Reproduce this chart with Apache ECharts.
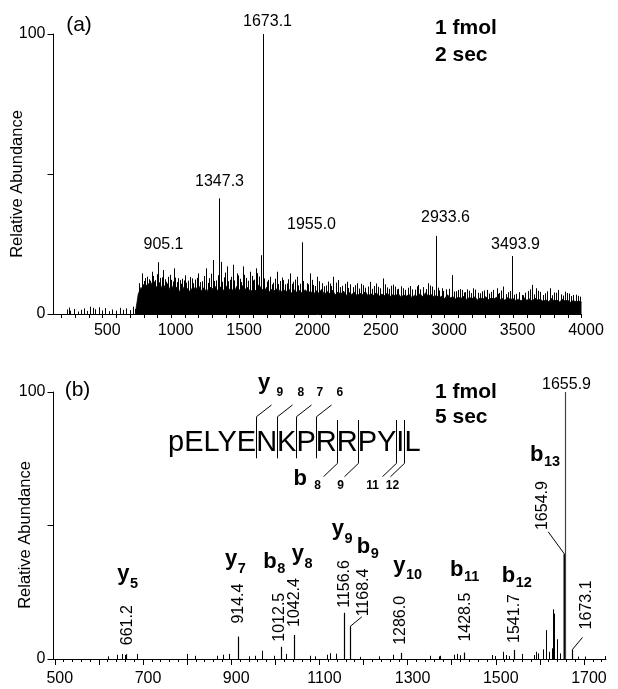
<!DOCTYPE html>
<html>
<head>
<meta charset="utf-8">
<script src="https://cdn.jsdelivr.net/npm/echarts@6/dist/echarts.min.js"></script>
<style>
html, body { margin: 0; padding: 0; background: #fff; }
#chart { width: 618px; height: 689px; }
</style>
</head>
<body>
<div id="chart"></div>
<script>
const FONT = '"Liberation Sans", Arial, Helvetica, sans-serif';

// ---- panel (a): 1 fmol, 2 sec ----
const xLabelsA = [500, 1000, 1500, 2000, 2500, 3000, 3500, 4000];
const peakMzA = [905.1, 1347.3, 1673.1, 1955.0, 2933.6, 3493.9];
const peakIntA = [18.5, 41.3, 100, 25.6, 27.9, 20.7];
// chemical noise floor, read every 20 m/z from 740
const floorStartA = 740, floorStepA = 20;
const floorA = [
  0.8, 7.2, 9.5, 8.1, 10.4, 8.8, 11.2, 9.0, 10.1, 8.4,
  10.8, 9.2, 8.0, 10.5, 8.7, 9.6, 7.9, 10.2, 8.5, 9.1,
  7.8, 9.9, 8.6, 10.3, 8.2, 9.4, 7.7, 9.8, 8.9, 10.0,
  8.3, 9.7, 8.1, 10.1, 8.6, 9.3, 7.6, 9.9, 8.4, 10.2,
  8.8, 9.5, 7.9, 9.0, 8.3, 10.4, 9.2, 8.0, 9.6, 7.8,
  9.1, 8.2, 9.4, 7.5, 8.9, 7.9, 9.0, 7.4, 8.6, 7.7,
  8.4, 7.2, 8.7, 7.6, 8.1, 6.9, 8.3, 7.4, 8.8, 7.0,
  8.0, 7.3, 8.5, 6.8, 7.9, 7.1, 8.2, 6.6, 7.7, 7.0,
  7.8, 6.5, 7.4, 6.9, 8.0, 6.4, 7.2, 6.7, 7.6, 6.3,
  7.1, 6.6, 7.5, 6.2, 6.9, 6.5, 7.3, 6.0, 6.8, 6.4,
  7.0, 5.9, 6.7, 6.3, 7.2, 6.1, 7.6, 6.4, 7.0, 6.2,
  6.6, 5.8, 6.4, 5.5, 6.9, 5.7, 6.2, 5.4, 6.0, 5.6,
  6.3, 5.2, 5.9, 5.5, 6.1, 5.0, 5.8, 5.3, 6.2, 5.1,
  5.7, 5.4, 6.0, 5.0, 5.6, 4.9, 5.9, 5.2, 5.5, 4.8,
  5.3, 4.7, 5.8, 4.9, 5.4, 4.6, 5.6, 5.0, 5.2, 4.5,
  5.1, 4.4, 5.5, 4.7, 5.0, 4.3, 5.3, 4.6, 4.9, 4.2,
  4.8, 4.4, 4.6, 4.3
];
// noise spikes standing above the floor [m/z, %]
const spikesA = [
  [236,1.6],[250,2.3],[262,1.2],[290,1.8],[318,0.9],[340,1.5],[365,2.0],[385,1.1],[410,2.6],[430,2.2],
  [445,1.7],[470,2.4],[495,1.3],[520,2.1],[545,1.0],[570,1.6],[600,1.2],[625,2.2],[650,1.5],[672,2.0],
  [700,1.4],[720,2.6],[735,1.8],
  [784,14.5],[800,11.8],[821,13.3],[838,12.4],[857,15.1],[875,11.6],[922,12.9],[943,15.7],[962,11.5],
  [979,13.3],[1002,12.2],[1021,16.3],[1042,11.4],[1064,12.1],[1083,12.6],[1101,13.8],[1125,11.9],
  [1150,12.7],[1175,12.3],[1198,14.5],[1226,11.7],[1254,16.3],[1279,12.8],[1303,19.3],[1330,12.0],
  [1362,18.6],[1385,13.1],[1405,17.0],[1428,12.2],[1449,17.6],[1479,14.5],[1500,12.6],[1522,17.0],
  [1550,12.9],[1576,15.1],[1598,12.0],[1620,16.3],[1640,13.4],[1656,21.0],[1700,11.6],[1722,13.3],
  [1745,11.2],[1771,15.1],[1795,11.8],[1820,12.1],[1845,10.9],[1868,14.5],[1893,11.5],[1917,13.3],
  [1940,10.8],[1990,11.0],[2014,14.5],[2040,10.4],[2063,13.3],[2100,11.0],[2130,10.2],[2160,10.9],
  [2185,13.3],[2222,12.1],[2250,10.1],[2283,11.5],[2310,10.6],[2330,9.6],[2356,11.0],[2400,10.3],
  [2420,9.4],[2453,11.5],[2480,10.0],[2510,9.7],[2551,12.7],[2580,9.5],[2610,10.1],[2636,9.8],
  [2660,9.0],[2697,9.2],[2730,9.4],[2760,8.8],[2807,10.4],[2840,9.6],[2860,8.9],[2880,11.0],
  [2905,9.8],[2960,8.4],[2977,9.2],[3010,8.8],[3050,13.9],[3080,8.1],[3100,8.6],[3123,8.6],
  [3150,7.8],[3180,8.3],[3208,9.2],[3240,7.6],[3270,8.1],[3306,8.6],[3340,7.9],[3379,9.2],
  [3400,7.5],[3428,9.8],[3460,7.8],[3520,7.2],[3562,6.8],[3590,7.6],[3610,8.2],[3635,10.4],
  [3671,9.2],[3700,7.9],[3730,7.4],[3769,9.2],[3800,7.7],[3830,8.6],[3850,7.0],[3878,8.0],
  [3910,7.3],[3939,6.8],[3960,6.9],[3988,6.2],
  [768,11.0],[792,10.6],[812,12.8],[830,10.9],[848,11.9],[866,13.6],[884,12.1],[893,14.2],[914,11.3],
  [931,13.1],[952,12.4],[970,10.9],[990,14.0],[1010,11.6],[1031,13.0],[1052,12.8],[1073,10.8],[1092,12.0],
  [1112,11.2],[1138,13.2],[1162,11.0],[1186,12.9],[1212,11.4],[1240,13.6],[1266,11.1],[1290,14.4],
  [1316,11.8],[1342,13.9],[1372,11.5],[1395,14.8],[1416,11.7],[1438,13.3],[1462,12.0],[1490,13.8],
  [1511,11.4],[1535,14.0],[1562,11.9],[1588,13.6],[1608,12.3],[1630,14.6],[1682,12.7],[1711,12.2],
  [1734,10.6],[1758,12.6],[1783,10.7],[1808,13.0],[1832,10.6],[1856,12.4],[1880,10.8],[1905,12.3],
  [1928,10.2],[1965,11.8],[2002,10.6],[2027,12.2],[2052,10.0],[2080,11.7],[2115,9.9],[2148,11.6],
  [2172,10.0],[2205,11.2],[2236,9.6],[2268,10.8],[2296,9.3],[2343,10.3],[2372,9.1],[2388,10.8],
  [2436,9.8],[2466,9.0],[2495,10.9],[2530,9.2],[2565,10.6],[2595,9.0],[2622,10.5],[2648,8.8],
  [2680,9.9],[2712,8.6],[2745,10.0],[2782,8.7],[2795,9.9],[2822,8.8],[2895,10.2],[2920,8.6],
  [2948,9.4],[2990,8.2],[3030,9.0],[3065,8.0],[3112,8.9],[3138,7.7],[3165,8.8],[3195,7.5],
  [3225,8.7],[3255,7.4],[3290,8.4],[3322,7.3],[3355,8.6],[3390,7.2],[3415,8.4],[3445,7.1],
  [3475,8.2],[3505,6.9],[3540,7.8],[3575,6.7],[3622,8.8],[3650,7.0],[3685,8.3],[3715,6.8],
  [3750,8.1],[3785,6.7],[3815,7.6],[3865,6.6],[3895,7.5],[3925,6.4],[3975,6.5]
];

// ---- panel (b): 1 fmol, 5 sec, PSD of neurotensin ----
const xLabelsB = [500, 700, 900, 1100, 1300, 1500, 1700];
const peakMzB = [661.2, 914.4, 1012.5, 1042.4, 1156.6, 1168.4, 1286.0, 1428.5, 1541.7, 1654.9, 1655.9, 1673.1];
const peakIntB = [1.8, 8.4, 4.6, 9.0, 17.3, 12.3, 2.3, 2.4, 3.4, 39.3, 100, 3.6];
const minorB = [
  [621.7,1.0],[640.7,1.6],[652,1.9],[659.6,1.5],[686,1.9],[799.6,1.9],[818,1.2],[867.7,1.2],[881,1.6],
  [896,1.9],[939.5,1.0],[954.6,1.2],[969.8,3.1],[996,1.2],[1025,1.9],[1079.5,1.2],[1090.8,1.0],
  [1117.3,1.6],[1124.8,2.2],[1137.7,2.0],[1193,0.8],[1234.5,1.0],[1267,1.6],[1351.8,1.2],[1370.6,1.0],
  [1374.5,1.2],[1404.7,1.6],[1412.4,1.9],[1420,1.4],[1491.8,1.5],[1499.3,1.1],[1516.8,2.7],[1524.3,1.5],
  [1530.4,1.1],[1560,1.9],[1586.3,1.5],[1590.8,2.7],[1595.4,2.1],[1607.6,3.6],[1613.5,10.8],[1621.2,2.7],
  [1627.1,4.0],[1630.3,18.6],[1631.5,17.0],[1639.4,7.4],[1645.3,2.1],[1685.8,0.9],[1702.4,0.9],[1747.8,1.1]
];
const residues = ['pE', 'L', 'Y', 'E', 'N', 'K', 'P', 'R', 'R', 'P', 'Y', 'I', 'L'];
const yIons = [9, 8, 7, 6];
const bIons = [8, 9, 11, 12];
const fragLabels = [['y', 5], ['y', 7], ['b', 8], ['y', 8], ['y', 9], ['b', 9], ['y', 10], ['b', 11], ['b', 12], ['b', 13]];

// ---- layout helpers ----
const ticksA = [];
for (let v = 200; v <= 4000; v += 100) ticksA.push(v);
const majorTicksB = [];
for (let v = 500; v <= 1700; v += 100) majorTicksB.push(v);
const minorTicksB = [];
for (let v = 500; v <= 1740; v += 20) minorTicksB.push(v);

function textEl(x, baseline, s, size, weight, align, extra) {
  return Object.assign({
    type: 'text', x: x, y: baseline - 0.35 * size,
    style: {
      text: s, fontSize: size, fontWeight: weight || 'normal', fontFamily: FONT, fill: '#000',
      align: align || 'left', verticalAlign: 'middle', textAlign: align || 'left', textVerticalAlign: 'middle'
    }
  }, extra || {});
}
function lineEl(x1, y1, x2, y2, w, color) {
  return { type: 'line', shape: { x1: x1, y1: y1, x2: x2, y2: y2 }, style: { stroke: color || '#000', lineWidth: w || 1 } };
}

const measure = document.createElement('canvas').getContext('2d');
function textWidth(s, font) { measure.font = font; return measure.measureText(s).width; }

// label placement, panel (a): [dx, gap above peak]
const nudgeA = { '905.1': [5, 12], '1347.3': [0, 11], '1673.1': [4, 7], '1955.0': [9, 12], '2933.6': [9, 13], '3493.9': [3, 6] };
// label placement, panel (b)
const gapB = { '661.2': [1, 9], '914.4': [0, 13], '1012.5': [-1.5, 5], '1042.4': [0, 8], '1156.6': [0, 5], '1286.0': [-1, 8], '1428.5': [1, 11], '1541.7': [0, 7] };
const leadersB = {
  '1168.4': { d: [11.3, -9.3], l: [1.7, -0.5] },
  '1654.9': { d: [-16.3, -22.3], l: [-5.3, -1.7] },
  '1673.1': { d: [10, -12], l: [3.8, -8] }
};

function rotLabel(x, y, s) {
  return {
    type: 'text', x: x, y: y, rotation: Math.PI / 2,
    style: { text: s, fontSize: 16, fontFamily: FONT, fill: '#000', align: 'left', verticalAlign: 'middle', textAlign: 'left', textVerticalAlign: 'middle' }
  };
}

function stickRender(width) {
  return function (params, api) {
    const b = api.coord([api.value(0), 0]);
    const t = api.coord([api.value(0), api.value(1)]);
    const x = Math.round(b[0]) + 0.5;
    return lineEl(x, b[1], x, t[1], width);
  };
}

// ---- graphic: titles, sequence diagram, fragment labels ----
const els = [];
els.push(textEl(79, 33, '(a)', 21, 'normal', 'center'));
els.push(textEl(77.5, 398, '(b)', 21, 'normal', 'center'));
els.push(textEl(17.3, 184 + 0.35 * 16.5, 'Relative Abundance', 16.5, 'normal', 'center', { rotation: Math.PI / 2, y: 184 }));
els.push(textEl(25, 535 + 0.35 * 16.5, 'Relative Abundance', 16.5, 'normal', 'center', { rotation: Math.PI / 2, y: 535 }));
els.push(textEl(435, 36, '1 fmol', 21, 'bold'));
els.push(textEl(435, 62.7, '2 sec', 21, 'bold'));
els.push(textEl(435, 400, '1 fmol', 21, 'bold'));
els.push(textEl(435, 425, '5 sec', 21, 'bold'));

const fragPos = [[117.3, 581.7], [225, 566.7], [263.3, 570], [291.7, 561.7], [331.7, 536.7], [356.7, 555], [393.3, 573.3], [450, 578], [501.7, 584], [530, 462.7]];
fragLabels.forEach((f, i) => {
  const p = fragPos[i];
  const w = textWidth(f[0], 'bold 22px ' + FONT);
  els.push(textEl(p[0], p[1], f[0], 22, 'bold'));
  els.push(textEl(p[0] + w + 0.5, p[1] + (f[0] === 'y' ? 7 : 4.5), String(f[1]), 14.5, 'bold'));
});

const seqX = 168, seqBase = 453, seqFont = '29px ' + FONT;
els.push(textEl(seqX, seqBase, residues.join(''), 29));
function cut(k) { return Math.round(seqX + textWidth(residues.slice(0, k).join(''), seqFont)) + 0.5; }
yIons.forEach(n => {
  const cx = cut(residues.length - n);
  els.push(lineEl(cx, 416.7, cx, 458.3));
  els.push(lineEl(cx, 416.7, cx + 15, 405));
  els.push(textEl(cx + 20, 396.7, String(n), 12, 'bold'));
});
els.push(textEl(cut(residues.length - yIons[0]) + 1.6, 391, 'y', 22, 'bold'));
const bNudge = { 8: -6, 9: -4, 11: -10, 12: 2 };
bIons.forEach(n => {
  const cx = cut(n);
  els.push(lineEl(cx, 420, cx, 463.3));
  els.push(lineEl(cx, 463.3, cx - 14, 476.7));
  els.push(textEl(cx - 14 + (bNudge[n] || 0), 490, String(n), 12, 'bold', 'center'));
});
els.push(textEl(cut(bIons[0]) - 44, 486.7, 'b', 22, 'bold'));

// ---- axes ----
const axisLine = { show: true, lineStyle: { color: '#000', width: 1 } };
const labelStyle = { color: '#000', fontSize: 16, fontFamily: FONT, formatter: v => String(v) };

const option = {
  animation: false,
  backgroundColor: '#fff',
  grid: [
    { left: 53.5, top: 34, width: 528, height: 280 },
    { left: 53.5, top: 392, width: 552.5, height: 267 }
  ],
  xAxis: [
    {
      type: 'value', gridIndex: 0, min: 140, max: 4000, axisLine: axisLine, splitLine: { show: false },
      axisTick: { show: true, length: 4, customValues: ticksA, lineStyle: { color: '#000' } },
      axisLabel: Object.assign({ customValues: xLabelsA, margin: 9, padding: [0, 0, 0, 9] }, labelStyle)
    },
    {
      type: 'value', gridIndex: 1, min: 497, max: 1750, axisLine: axisLine, splitLine: { show: false },
      axisTick: { show: true, length: 6, customValues: majorTicksB, lineStyle: { color: '#000' } },
      axisLabel: Object.assign({ customValues: xLabelsB, margin: 12, padding: [0, 0, 0, 10] }, labelStyle)
    },
    {
      type: 'value', gridIndex: 1, min: 497, max: 1750, position: 'bottom', offset: 0,
      axisLine: { show: false }, splitLine: { show: false }, axisLabel: { show: false },
      axisTick: { show: true, length: 3, customValues: minorTicksB, lineStyle: { color: '#000' } }
    }
  ],
  yAxis: [0, 1].map(g => ({
    type: 'value', gridIndex: g, min: 0, max: 100, interval: 50, axisLine: axisLine,
    splitLine: { show: false },
    axisTick: { show: true, length: 6, lineStyle: { color: '#000' } },
    axisLabel: Object.assign({}, labelStyle, { margin: 8, formatter: v => (v === 50 ? '' : String(v)) })
  })),
  graphic: { elements: els },
  series: [
    {
      type: 'line', xAxisIndex: 0, yAxisIndex: 0, silent: true, symbol: 'none', z: 1,
      data: floorA.map((v, i) => [floorStartA + i * floorStepA, v]),
      lineStyle: { color: '#000', width: 0.8 },
      areaStyle: { color: '#000', opacity: 1 }
    },
    {
      type: 'custom', xAxisIndex: 0, yAxisIndex: 0, silent: true, z: 2,
      data: spikesA, renderItem: stickRender(1)
    },
    {
      type: 'custom', xAxisIndex: 0, yAxisIndex: 0, silent: true, z: 3,
      data: peakMzA.map((m, i) => [m, peakIntA[i]]),
      renderItem: (params, api) => {
        const m = api.value(0);
        const b = api.coord([m, 0]);
        const t = api.coord([m, api.value(1)]);
        const x = Math.round(b[0]) + 0.5;
        const s = m.toFixed(1);
        const n = nudgeA[s] || [5, 10];
        return { type: 'group', children: [
          lineEl(x, b[1], x, t[1], 1),
          textEl(x + n[0], t[1] - n[1], s, 16, 'normal', 'center')
        ] };
      }
    },
    {
      type: 'custom', xAxisIndex: 1, yAxisIndex: 1, silent: true, z: 2,
      data: minorB, renderItem: stickRender(1)
    },
    {
      type: 'custom', xAxisIndex: 1, yAxisIndex: 1, silent: true, z: 3,
      data: peakMzB.map((m, i) => [m, peakIntB[i]]),
      renderItem: (params, api) => {
        const m = api.value(0);
        const b = api.coord([m, 0]);
        const t = api.coord([m, api.value(1)]);
        const x = Math.round(b[0]) + 0.5;
        const s = m.toFixed(1);
        const kids = [lineEl(x, b[1], x, t[1], s === '1654.9' ? 2 : 1.2, s === '1655.9' ? '#444' : '#000')];
        if (s === '1655.9') {
          kids.push(textEl(x + 1, t[1] - 1.5, s, 16, 'normal', 'center'));
        } else if (leadersB[s]) {
          const L = leadersB[s];
          const ex = x + L.d[0], ey = t[1] + L.d[1];
          kids.push(lineEl(x, t[1], ex, ey, 1));
          kids.push(rotLabel(ex + L.l[0], ey + L.l[1], s));
        } else {
          const g = gapB[s] || [0, 7];
          kids.push(rotLabel(x + g[0], t[1] - g[1], s));
        }
        return { type: 'group', children: kids };
      }
    }
  ]
};

const chart = echarts.init(document.getElementById('chart'), null, { renderer: 'canvas' });
chart.setOption(option);
</script>
</body>
</html>
